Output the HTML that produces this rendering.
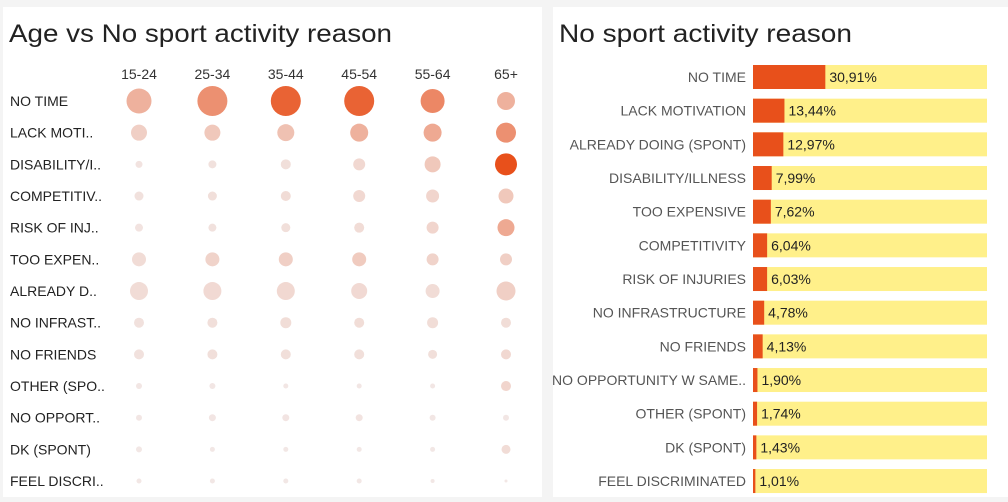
<!DOCTYPE html>
<html><head><meta charset="utf-8"><style>
body{margin:0;width:1008px;height:502px;background:#f4f4f4;font-family:"Liberation Sans",sans-serif;overflow:hidden;position:relative}
.panel{position:absolute;background:#fff}
svg{position:absolute;left:0;top:0}
</style></head><body>
<div class="panel" style="left:3px;top:7px;width:539px;height:490px"></div>
<div class="panel" style="left:553px;top:7px;width:455px;height:490px"></div>
<svg id="chart" width="1008" height="502">
<text x="9" y="42" font-size="25" fill="#222" textLength="383" lengthAdjust="spacingAndGlyphs">Age vs No sport activity reason</text>
<text x="559" y="42" font-size="25" fill="#222" textLength="293" lengthAdjust="spacingAndGlyphs">No sport activity reason</text>
</svg>
<script>
const ageGroups=["15-24","25-34","35-44","45-54","55-64","65+"];
const shortReasons=["NO TIME","LACK MOTI..","DISABILITY/I..","COMPETITIV..","RISK OF INJ..","TOO EXPEN..","ALREADY D..","NO INFRAST..","NO FRIENDS","OTHER (SPO..","NO OPPORT..","DK (SPONT)","FEEL DISCRI.."];
const bubbleSize=[
[12.5,15,15,15,12,9],[8,8,8.5,9,9,10],[3.5,4,5,6,8,11],[4.5,4.5,5,6,6.5,7.5],
[4,4,4.5,5,6,8.5],[7,7,7,7,6,6],[9,9,9,8,7,9.5],[5,5,5.5,5,5.5,5],
[5,5,5,5,4.5,5],[3,3,2.5,2.5,2.5,5],[3,3.5,3.5,3.5,3,3],[3,2.5,2.5,2.5,2.5,4.5],[2.5,2.5,2.5,2.5,2,1.5]];
const bubbleShade=[
[.45,.65,.9,.9,.7,.45],[.25,.3,.35,.45,.5,.65],[.08,.1,.12,.18,.3,1],[.1,.12,.15,.18,.2,.3],
[.08,.1,.12,.15,.2,.5],[.15,.22,.25,.28,.22,.25],[.15,.17,.18,.17,.15,.25],[.1,.12,.14,.14,.14,.14],
[.1,.12,.12,.12,.12,.18],[.05,.05,.05,.05,.05,.2],[.05,.06,.07,.08,.05,.05],[.04,.04,.04,.04,.04,.15],[.04,.04,.04,.04,.04,.04]];
const reasons=["NO TIME","LACK MOTIVATION","ALREADY DOING (SPONT)","DISABILITY/ILLNESS","TOO EXPENSIVE","COMPETITIVITY","RISK OF INJURIES","NO INFRASTRUCTURE","NO FRIENDS","NO OPPORTUNITY W SAME..","OTHER (SPONT)","DK (SPONT)","FEEL DISCRIMINATED"];
const shares=[30.91,13.44,12.97,7.99,7.62,6.04,6.03,4.78,4.13,1.90,1.74,1.43,1.01];

const svg=document.getElementById('chart');
const NS='http://www.w3.org/2000/svg';
function mk(t,a){const e=document.createElementNS(NS,t);for(const k in a)e.setAttribute(k,a[k]);svg.appendChild(e);return e;}
const colX=i=>139+i*73.4;
const rowY=i=>101+i*31.67;
function shade(t){t=Math.pow(t,1.25);const a=[242,234,233],b=[232,80,27];return 'rgb('+a.map((v,i)=>Math.round(v+(b[i]-v)*t)).join(',')+')';}
ageGroups.forEach((g,i)=>{
  const t=mk('text',{x:colX(i),y:79,'font-size':14,'text-anchor':'middle',fill:'#333'});t.textContent=g;
  
  
});
shortReasons.forEach((r,j)=>{
  const t=mk('text',{x:10,y:rowY(j)+5,'font-size':14,fill:'#222'});t.textContent=r;
  
  
  ageGroups.forEach((g,i)=>{
    const c=mk('circle',{cx:colX(i),cy:rowY(j),r:bubbleSize[j][i],fill:shade(bubbleShade[j][i])});
    
    
  });
});
const barX=753,barW=234,barH=24;
const barY=i=>77+i*33.67;
const xs=v=>v/100*barW;
reasons.forEach((r,i)=>{
  const y=barY(i);
  const bg=mk('rect',{x:barX,y:y-barH/2,width:barW,height:barH,fill:'#fff08a'});
  
  
  const b=mk('rect',{x:barX,y:y-barH/2,width:xs(shares[i]),height:barH,fill:'#e8501b'});
  
  
  const l=mk('text',{x:746,y:y+5,'font-size':14,'text-anchor':'end',fill:'#555'});l.textContent=r;
  
  
  const v=mk('text',{x:barX+xs(shares[i])+4,y:y+5,'font-size':14,fill:'#222'});v.textContent=shares[i].toFixed(2).replace('.',',')+'%';
  
  
});
</script>
</body></html>
